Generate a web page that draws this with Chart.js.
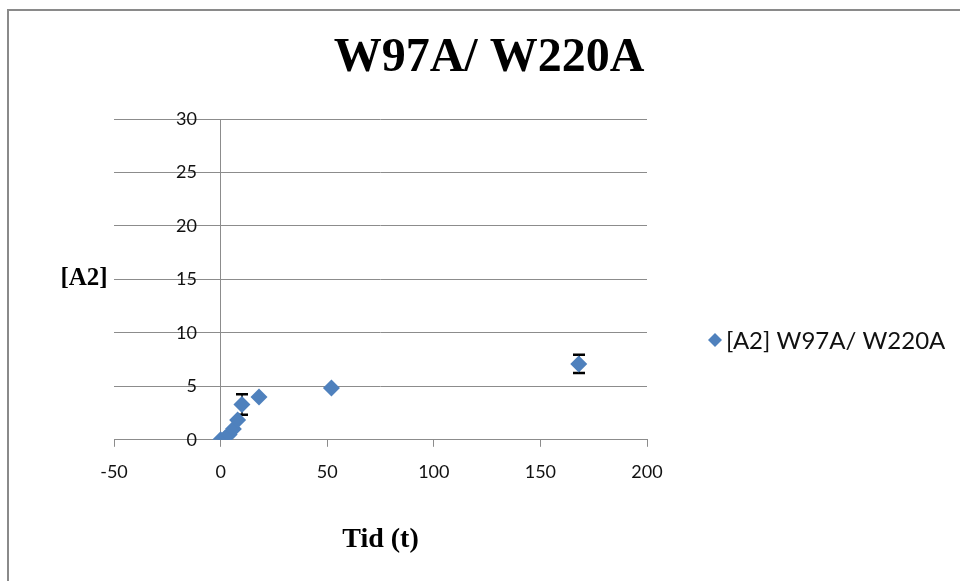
<!DOCTYPE html>
<html>
<head>
<meta charset="utf-8">
<script src="https://cdn.jsdelivr.net/npm/chart.js@4.4.1/dist/chart.umd.min.js"></script>
<style>
  html, body { margin: 0; padding: 0; background: #ffffff; }
  canvas { display: block; }
</style>
</head>
<body>
<canvas id="chart" width="960" height="581"></canvas>
<script>
// Text
const chartTitle = 'W97A/ W220A';
const seriesName = '[A2] W97A/ W220A';
const yAxisTitle = '[A2]';
const xAxisTitle = 'Tid (t)';

// Measurements: time (hours), [A2] and its error
const timeHours = [0, 2, 4, 6, 8, 10, 18, 52, 168];
const a2Values  = [0, 0.15, 0.5, 1.0, 1.85, 3.3, 4.0, 4.85, 7.1];
const a2Errors  = [0, 0, 0, 0, 0, 0.95, 0, 0, 0.85];

// Axis ticks
const xTicks = [-50, 0, 50, 100, 150, 200];
const yTicks = [0, 5, 10, 15, 20, 25, 30];

const markerColor = '#4F81BD';
const gridColor = '#8c8c8c';
const serif = '"Liberation Serif", "Times New Roman", serif';
const sans = 'Lato, "Open Sans", sans-serif';

const points = timeHours.map((t, i) => ({ x: t, y: a2Values[i] }));

// White page and the grey frame round the chart
const framePlugin = {
  id: 'frame',
  beforeDraw(chart) {
    const ctx = chart.ctx;
    ctx.save();
    ctx.fillStyle = '#ffffff';
    ctx.fillRect(0, 0, chart.width, chart.height);
    ctx.fillStyle = '#8a8a8a';
    ctx.fillRect(7, 9, chart.width - 7, 2);
    ctx.fillRect(7, 9, 2, chart.height - 9);
    ctx.restore();
  }
};

// Vertical error bars with caps, drawn behind the markers
const errorBarPlugin = {
  id: 'errorBars',
  beforeDatasetsDraw(chart) {
    const ctx = chart.ctx;
    const xs = chart.scales.x, ys = chart.scales.y;
    ctx.save();
    ctx.strokeStyle = '#000000';
    timeHours.forEach((t, i) => {
      const e = a2Errors[i];
      if (!e) return;
      const px = Math.round(xs.getPixelForValue(t));
      const top = ys.getPixelForValue(a2Values[i] + e);
      const bot = ys.getPixelForValue(a2Values[i] - e);
      ctx.lineWidth = 1.5;
      ctx.beginPath();
      ctx.moveTo(px, top); ctx.lineTo(px, bot);
      ctx.stroke();
      ctx.lineWidth = 2.5;
      ctx.beginPath();
      ctx.moveTo(px - 6, top); ctx.lineTo(px + 6, top);
      ctx.moveTo(px - 6, bot); ctx.lineTo(px + 6, bot);
      ctx.stroke();
    });
    ctx.restore();
  }
};

// Title, horizontal y-axis title and the legend entry
const labelsPlugin = {
  id: 'labels',
  afterDraw(chart) {
    const ctx = chart.ctx;
    ctx.save();
    ctx.fillStyle = '#000000';
    ctx.textBaseline = 'middle';

    ctx.textAlign = 'center';
    ctx.font = 'bold 48px ' + serif;
    ctx.fillText(chartTitle, 489, 59);

    ctx.font = 'bold 25px ' + serif;
    ctx.fillText(yAxisTitle, 84, 279);

    // legend
    const lx = 715, ly = 340, r = 7;
    ctx.fillStyle = markerColor;
    ctx.beginPath();
    ctx.moveTo(lx - r, ly); ctx.lineTo(lx, ly - r);
    ctx.lineTo(lx + r, ly); ctx.lineTo(lx, ly + r);
    ctx.closePath();
    ctx.fill();
    ctx.fillStyle = '#111111';
    ctx.textAlign = 'left';
    ctx.font = '24px ' + sans;
    ctx.fillText(seriesName, 726, ly + 1);
    ctx.restore();
  }
};

new Chart(document.getElementById('chart'), {
  type: 'scatter',
  data: {
    datasets: [{
      label: seriesName,
      data: points,
      pointStyle: 'rectRot',
      pointRadius: 8.5,
      pointHoverRadius: 8.5,
      backgroundColor: markerColor,
      borderColor: markerColor,
      borderWidth: 0
    }]
  },
  options: {
    responsive: false,
    animation: false,
    devicePixelRatio: 1,
    layout: { padding: { top: 119, left: 114, right: 313, bottom: 24 } },
    plugins: {
      legend: { display: false },
      title: { display: false },
      tooltip: { enabled: false }
    },
    scales: {
      x: {
        type: 'linear',
        position: 'bottom',
        min: xTicks[0],
        max: xTicks[xTicks.length - 1],
        afterBuildTicks(scale) { scale.ticks = xTicks.map(v => ({ value: v })); },
        // only the x = 0 line runs up through the plot (the vertical axis)
        grid: {
          drawOnChartArea: true,
          color: (c) => (c.tick && c.tick.value === 0 ? gridColor : 'rgba(0,0,0,0)'),
          tickColor: gridColor,
          tickLength: 7,
          lineWidth: 1
        },
        border: { color: gridColor, width: 1 },
        ticks: { color: '#111111', font: { family: sans, size: 18 }, padding: 15, maxRotation: 0 },
        title: {
          display: true,
          text: xAxisTitle,
          color: '#000000',
          font: { family: serif, size: 28, weight: 'bold' },
          padding: { top: 25, bottom: 0 }
        }
      },
      // value axis: gridlines across the plot, labels set just left of x = 0
      y: {
        type: 'linear',
        position: 'left',
        min: yTicks[0],
        max: yTicks[yTicks.length - 1],
        afterBuildTicks(scale) { scale.ticks = yTicks.map(v => ({ value: v })); },
        afterFit(scale) { scale.width = 0; },
        grid: { color: gridColor, drawTicks: false, lineWidth: 1 },
        border: { display: false },
        ticks: {
          color: '#111111',
          font: { family: sans, size: 18 },
          mirror: true,
          crossAlign: 'far',
          padding: 62
        }
      }
    }
  },
  plugins: [framePlugin, errorBarPlugin, labelsPlugin]
});
</script>
</body>
</html>
